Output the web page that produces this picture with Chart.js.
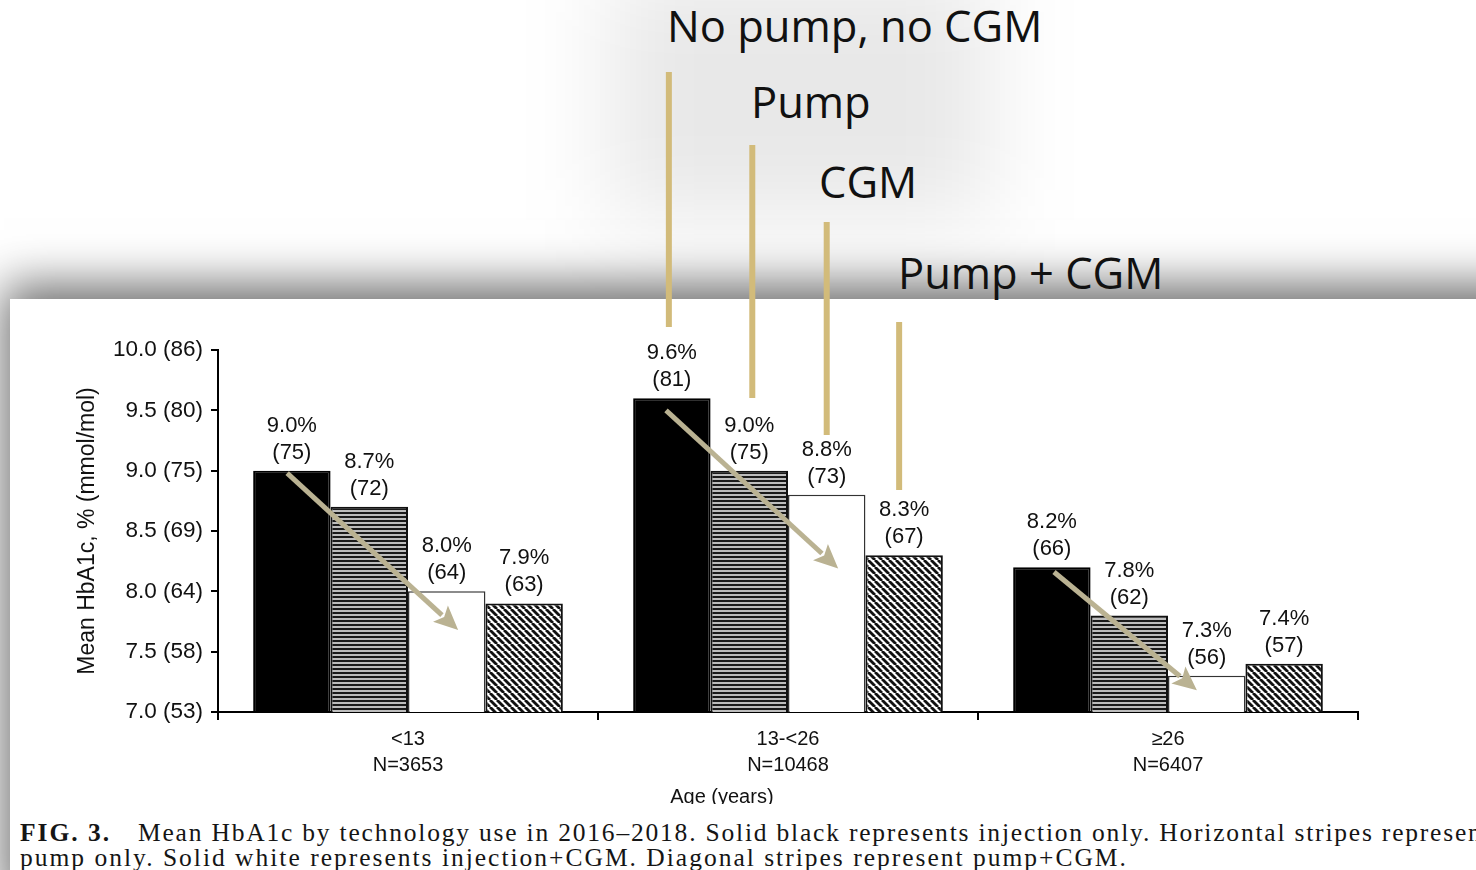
<!DOCTYPE html>
<html>
<head>
<meta charset="utf-8">
<title>Mean HbA1c by technology use</title>
<script src="https://cdn.jsdelivr.net/npm/chart.js@4.4.1/dist/chart.umd.min.js"></script>
<style>
  html, body { margin: 0; padding: 0; width: 1476px; height: 870px; overflow: hidden; background: #fff; }
  #haze { position: absolute; left: 610px; top: -30px; width: 380px; height: 250px; background: rgba(0,0,0,0.09); filter: blur(45px); }
  #panel { position: absolute; left: 10px; top: 299px; width: 1530px; height: 620px; background: #fff;
           box-shadow: -6px -14px 45px rgba(0,0,0,0.58); }
  #chartbox { position: absolute; left: 0; top: 0; width: 1476px; height: 870px; }
  .note { position: absolute; font-family: "Open Sans", sans-serif; font-size: 43.5px; line-height: 43.5px;
          color: #111; white-space: nowrap; }
  #caption { position: absolute; left: 10px; top: 804px; width: 1466px; height: 66px; background: #fff;
             overflow: hidden; font-family: "Liberation Serif", serif; font-size: 25.5px; color: #151515; }
  #caption div { position: absolute; white-space: nowrap; line-height: 25px; letter-spacing: 2px; }
</style>
</head>
<body>
<div id="haze"></div>
<div id="panel"></div>

<div class="note" style="left:667px; top:4px;">No pump, no CGM</div>
<div class="note" style="left:751px; top:80px;">Pump</div>
<div class="note" style="left:819px; top:160px;">CGM</div>
<div class="note" style="left:898px; top:251px;">Pump + CGM</div>

<div id="chartbox"><canvas id="chart"></canvas></div>

<div id="caption">
  <div style="left:10px; top:16px;"><b>FIG. 3.</b></div>
  <div style="left:128px; top:16px; letter-spacing:1.8px;">Mean HbA1c by technology use in 2016–2018. Solid black represents injection only. Horizontal stripes represent</div>
  <div style="left:10px; top:41px;">pump only. Solid white represents injection+CGM. Diagonal stripes represent pump+CGM.</div>
</div>

<script>
// Age groups (two-line tick labels)
const ageGroups = [['<13', 'N=3653'], ['13-<26', 'N=10468'], ['≥26', 'N=6407']];

// Mean HbA1c, % per technology group
const injectionOnly = [9.0, 9.6, 8.2];
const pumpOnly      = [8.7, 9.0, 7.8];
const injectionCgm  = [8.0, 8.8, 7.3];
const pumpCgm       = [7.9, 8.3, 7.4];

// Same means in mmol/mol
const injectionOnlyMmol = [75, 81, 66];
const pumpOnlyMmol      = [72, 75, 62];
const injectionCgmMmol  = [64, 73, 56];
const pumpCgmMmol       = [63, 67, 57];

// Y axis tick labels: % (mmol/mol)
const yTickLabels = ['7.0 (53)', '7.5 (58)', '8.0 (64)', '8.5 (69)', '9.0 (75)', '9.5 (80)', '10.0 (86)'];

const FONT = '"Liberation Sans", Arial, sans-serif';
const canvas = document.getElementById('chart');
const ctx0 = canvas.getContext('2d');

// Horizontal stripe fill
function horizontalStripes() {
  const t = document.createElement('canvas');
  t.width = 4; t.height = 4;
  const c = t.getContext('2d');
  c.fillStyle = '#bdbdbd'; c.fillRect(0, 0, 4, 4);
  c.fillStyle = '#1a1a1a'; c.fillRect(0, 0, 4, 2);
  return ctx0.createPattern(t, 'repeat');
}

// Diagonal stripe fill, running top-left to bottom-right
function diagonalStripes() {
  const s = 7;
  const t = document.createElement('canvas');
  t.width = s; t.height = s;
  const c = t.getContext('2d');
  c.fillStyle = '#fff'; c.fillRect(0, 0, s, s);
  c.strokeStyle = '#111'; c.lineWidth = 2.8;
  for (const o of [-s, 0, s]) {
    c.beginPath(); c.moveTo(o, 0); c.lineTo(o + s, s); c.stroke();
  }
  return ctx0.createPattern(t, 'repeat');
}

// Trend arrows: category index, [offset in category widths, value] for tail and head
const trendArrows = [
  { cat: 0, from: [-0.318, 8.98], to: [0.132, 7.68] },
  { cat: 1, from: [-0.321, 9.50], to: [0.132, 8.19] },
  { cat: 2, from: [-0.300, 8.16], to: [0.076, 7.18] }
];

// Leader lines from the group names down to the 13-<26 bars (pixel offsets / y range)
const leaders = [
  { dataset: 0, dx: -3, top: 72,  bottom: 327 },
  { dataset: 1, dx: 3,  top: 145, bottom: 398 },
  { dataset: 2, dx: 0,  top: 222, bottom: 435 },
  { dataset: 3, dx: -5, top: 322, bottom: 490 }
];

function drawArrow(ctx, x1, y1, x2, y2) {
  const a = Math.atan2(y2 - y1, x2 - x1);
  const head = 24, half = 11;
  const bx = x2 - head * Math.cos(a), by = y2 - head * Math.sin(a);
  ctx.beginPath(); ctx.moveTo(x1, y1); ctx.lineTo(bx + 2 * Math.cos(a), by + 2 * Math.sin(a)); ctx.stroke();
  ctx.beginPath();
  ctx.moveTo(x2, y2);
  ctx.lineTo(bx + half * Math.sin(a), by - half * Math.cos(a));
  ctx.lineTo(bx + 5 * Math.cos(a), by + 5 * Math.sin(a));
  ctx.lineTo(bx - half * Math.sin(a), by + half * Math.cos(a));
  ctx.closePath(); ctx.fill();
}

const decorations = {
  id: 'decorations',
  afterDatasetsDraw(chart) {
    const { ctx } = chart;
    ctx.save();
    ctx.font = '22px ' + FONT;
    ctx.fillStyle = '#111';
    ctx.textAlign = 'center';
    ctx.textBaseline = 'middle';
    chart.data.datasets.forEach((ds, di) => {
      chart.getDatasetMeta(di).data.forEach((bar, i) => {
        ctx.fillText(ds.data[i].toFixed(1) + '%', bar.x, bar.y - 45);
        ctx.fillText('(' + ds.mmol[i] + ')', bar.x, bar.y - 18);
      });
    });
    ctx.restore();
  },
  afterDraw(chart) {
    const { ctx, scales: { x, y } } = chart;
    ctx.save();
    // axis title
    ctx.font = '20px ' + FONT;
    ctx.fillStyle = '#111';
    ctx.textAlign = 'center';
    ctx.textBaseline = 'middle';
    ctx.fillText('Age (years)', x.left + (x.right - x.left) * 0.442, 797);

    // trend arrows
    const catW = (x.right - x.left) / ageGroups.length;
    ctx.strokeStyle = 'rgb(186,178,146)';
    ctx.fillStyle = 'rgb(186,178,146)';
    ctx.lineWidth = 5;
    ctx.lineCap = 'butt';
    trendArrows.forEach(t => {
      const cx = x.getPixelForValue(t.cat);
      drawArrow(ctx, cx + t.from[0] * catW, y.getPixelForValue(t.from[1]),
                     cx + t.to[0] * catW, y.getPixelForValue(t.to[1]));
    });

    // leader lines
    ctx.strokeStyle = '#d2bb7a';
    ctx.lineWidth = 6;
    leaders.forEach(l => {
      const bar = chart.getDatasetMeta(l.dataset).data[1];
      const lx = bar.x + l.dx;
      ctx.beginPath(); ctx.moveTo(lx, l.top); ctx.lineTo(lx, l.bottom); ctx.stroke();
    });
    ctx.restore();
  }
};

new Chart(canvas, {
  type: 'bar',
  data: {
    labels: ageGroups,
    datasets: [
      { label: 'No pump, no CGM', data: injectionOnly, mmol: injectionOnlyMmol,
        backgroundColor: '#000', borderColor: '#000', borderWidth: 2 },
      { label: 'Pump', data: pumpOnly, mmol: pumpOnlyMmol,
        backgroundColor: horizontalStripes(), borderColor: '#111', borderWidth: 2 },
      { label: 'CGM', data: injectionCgm, mmol: injectionCgmMmol,
        backgroundColor: '#fff', borderColor: '#333', borderWidth: 1.5 },
      { label: 'Pump + CGM', data: pumpCgm, mmol: pumpCgmMmol,
        backgroundColor: diagonalStripes(), borderColor: '#111', borderWidth: 2 }
    ]
  },
  options: {
    responsive: true,
    maintainAspectRatio: false,
    animation: false,
    layout: { padding: { left: 50, top: 350, right: 118, bottom: 0 } },
    datasets: { bar: { categoryPercentage: 0.815, barPercentage: 1.0, borderSkipped: 'bottom' } },
    plugins: { legend: { display: false }, tooltip: { enabled: false } },
    scales: {
      x: {
        offset: true,
        grid: { offset: true, drawOnChartArea: false, drawTicks: true, tickLength: 8, color: '#000', lineWidth: 2 },
        border: { color: '#000', width: 2 },
        ticks: { color: '#111', font: { family: FONT, size: 20, lineHeight: 1.3 }, padding: 6, maxRotation: 0, autoSkip: false },
        afterFit: s => { s.height = 158; }
      },
      y: {
        min: 7, max: 10,
        grid: { drawOnChartArea: false, drawTicks: true, tickLength: 7, color: '#000', lineWidth: 2 },
        border: { color: '#000', width: 2 },
        ticks: { stepSize: 0.5, color: '#111', font: { family: FONT, size: 22.5 }, padding: 8,
                 callback: (v, i) => yTickLabels[i] },
        title: { display: true, text: 'Mean HbA1c, % (mmol/mol)', color: '#111',
                 font: { family: FONT, size: 23 }, padding: { top: 24 } },
        afterFit: s => { s.width = 168; }
      }
    }
  },
  plugins: [decorations]
});
</script>
</body>
</html>
